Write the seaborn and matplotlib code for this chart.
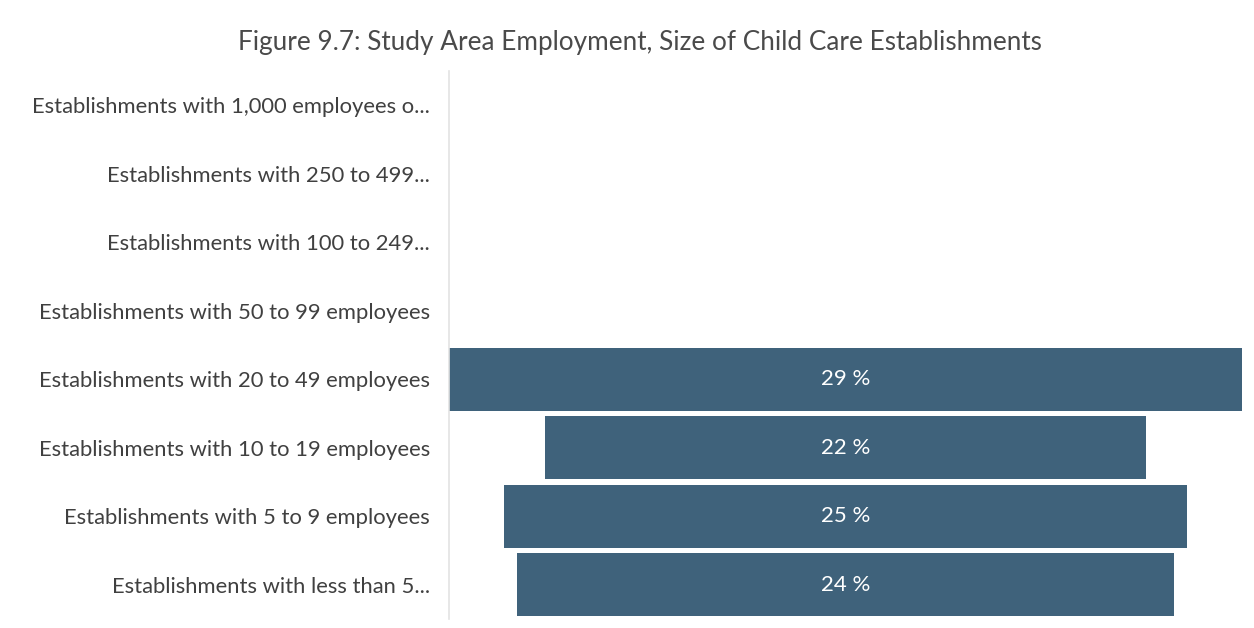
import matplotlib
matplotlib.use("Agg")
import matplotlib.pyplot as plt
import seaborn as sns
import pandas as pd

categories = [
    "Establishments with 1,000 employees o...",
    "Establishments with 250 to 499...",
    "Establishments with 100 to 249...",
    "Establishments with 50 to 99 employees",
    "Establishments with 20 to 49 employees",
    "Establishments with 10 to 19 employees",
    "Establishments with 5 to 9 employees",
    "Establishments with less than 5...",
]
shares = [0, 0, 0, 0, 29, 22, 25, 24]

title = "Figure 9.7: Study Area Employment, Size of Child Care Establishments"
bar_color = "#3f627b"
text_color = "#404040"

df = pd.DataFrame({"category": categories, "share": shares})

sns.set_theme(style="white")
plt.rcParams["font.family"] = ["Lato", "DejaVu Sans"]

fig = plt.figure(figsize=(12.54, 6.28), dpi=100)
ax = fig.add_axes([0.358, 0.014, 0.6324, 0.873])

sns.barplot(data=df, x="share", y="category", color=bar_color,
            saturation=1, width=0.92, ax=ax, orient="h")

# center each bar on the widest one to form a funnel
peak = max(shares)
for patch, val in zip(ax.patches, shares):
    patch.set_x((peak - val) / 2)
    patch.set_edgecolor("none")
    if val > 0:
        ax.text(peak / 2, patch.get_y() + patch.get_height() / 2, f"{val} %",
                ha="center", va="center", color="white", fontsize=16)

ax.set_xlim(0, peak)
ax.set_xlabel("")
ax.set_ylabel("")
ax.set_xticks([])
ax.tick_params(axis="y", length=0, pad=13.5, labelsize=15.8, labelcolor=text_color)
for s in ["top", "right", "bottom"]:
    ax.spines[s].set_visible(False)
ax.spines["left"].set_color("#e3e3e3")
ax.spines["left"].set_linewidth(1.2)

fig.text(0.51, 0.932, title, ha="center", va="center", fontsize=18.8, color="#4a4a4a")

fig.savefig("out.png", dpi=100, facecolor="white")
